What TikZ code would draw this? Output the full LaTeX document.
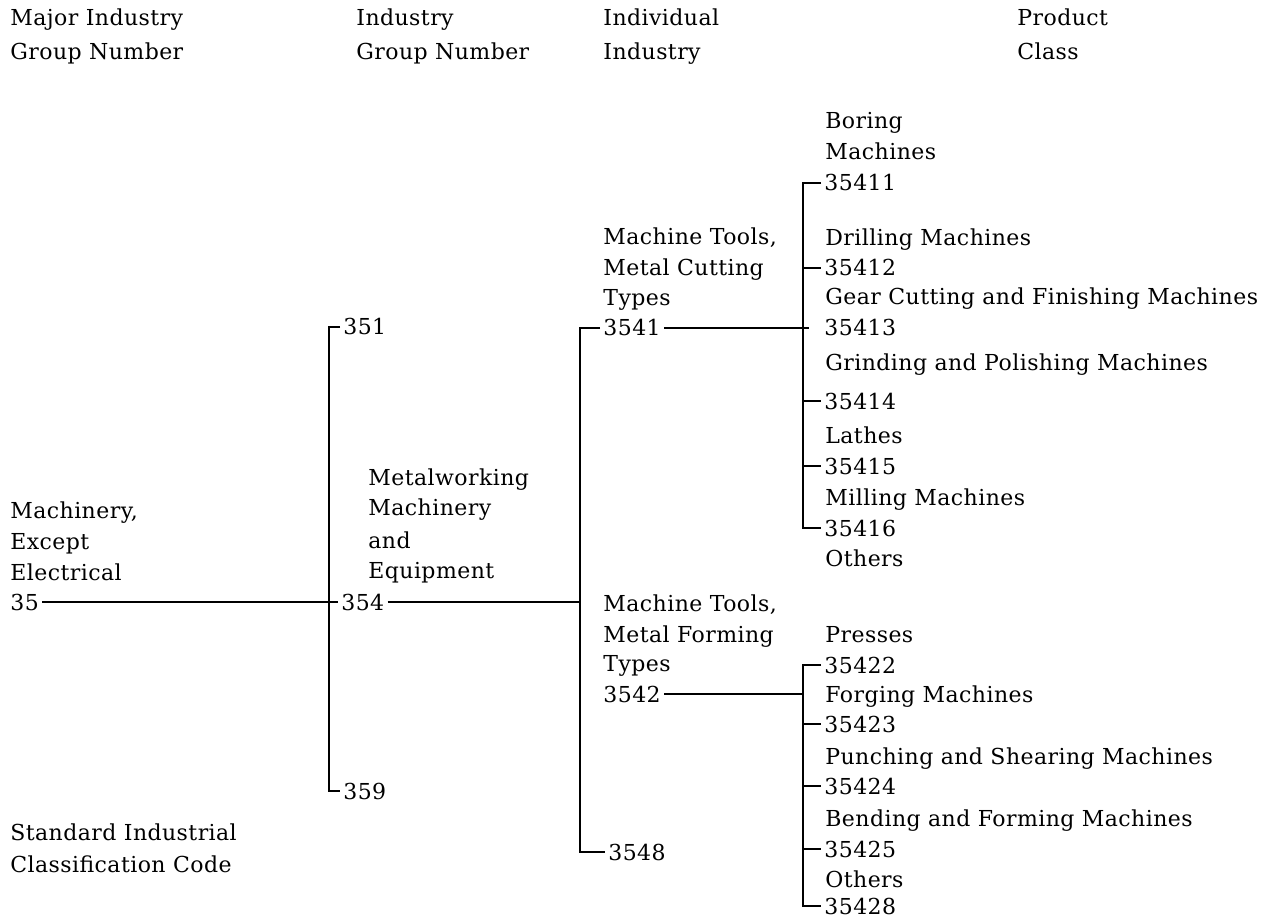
\documentclass[tikz,border=0pt]{standalone}
\usepackage{fontspec}
\setmainfont{DejaVu Serif}[LetterSpace=2]
\usetikzlibrary{positioning}
\tikzset{
  sictext/.style={anchor=base west, inner sep=0pt, font=\fontsize{11}{15}\selectfont},
  siccode/.style={sictext, inner sep=1.5pt},
  sicline/.style={line width=1.1pt, black}
}
\begin{document}
\begin{tikzpicture}[x=0.5pt, y=-0.5pt]
  \useasboundingbox (0,0) rectangle (1274,919);
  % column headings
  \foreach \x/\ta/\tb [count=\i] in {10/Major Industry/Group Number,
      356/Industry/Group Number, 603/Individual/Industry, 1017/Product/Class}{
    \node[sictext] (head\i a) at (\x,26) {\ta};
    \node[sictext] (head\i b) at (\x,60) {\tb};
  }
  % descriptions
  \foreach \x/\y/\t [count=\i] in {
      10/518/{Machinery,}, 10/549/Except, 10/580/Electrical,
      368/486/Metalworking, 368/516/Machinery, 368/548/and, 368/578/Equipment,
      603/245/{Machine Tools,}, 603/276/Metal Cutting, 603/306/Types,
      603/611/{Machine Tools,}, 603/642/Metal Forming, 603/671/Types,
      825/129/Boring, 825/160/Machines, 825/246/Drilling Machines,
      825/305/Gear Cutting and Finishing Machines,
      825/371/Grinding and Polishing Machines, 825/444/Lathes,
      825/505/Milling Machines, 825/566/Others,
      825/642/Presses, 825/702/Forging Machines,
      825/764/Punching and Shearing Machines,
      825/826/Bending and Forming Machines, 825/887/Others,
      10/840/Standard Industrial, 10/872/Classification Code}{
    \node[sictext] (desc\i) at (\x,\y) {\t};
  }
  % codes
  \node[siccode] (c35) at (7,610) {35};
  \node[siccode] (c351) at (340,335) {351};
  \node[siccode] (c354) at (338,610) {354};
  \node[siccode] (c359) at (340,799) {359};
  \node[siccode] (c3541) at (600,336) {3541};
  \node[siccode] (c3542) at (600,702) {3542};
  \node[siccode] (c3548) at (605,860) {3548};
  \foreach \c/\y in {35411/191, 35412/276, 35413/336, 35414/409, 35415/474,
      35416/536, 35422/673, 35423/732, 35424/794, 35425/857, 35428/914}{
    \node[siccode] (c\c) at (821,\y) {\c};
  }
  \coordinate (bar1) at (329,0);
  \coordinate (bar2) at (580,0);
  \coordinate (bar3) at (803,0);
  \coordinate (bar4) at (803,0);
  % tree
  \draw[sicline] (c35.east) -- (c354.west);
  \draw[sicline] (c351.west) -- (c351.west -| bar1) -- (c359.west -| bar1) -- (c359.west);
  \draw[sicline] (c354.east) -- (c354.east -| bar2);
  \draw[sicline] (c3541.west) -- (c3541.west -| bar2) -- (c3548.west -| bar2) -- (c3548.west);
  \draw[sicline, shorten >=6pt] (c3541.east) -- (c35413.west);
  \draw[sicline] (c35411.west) -- (c35411.west -| bar3) -- (c35416.west -| bar3) -- (c35416.west);
  \foreach \c in {35412, 35414, 35415}
    \draw[sicline] (c\c.west -| bar3) -- (c\c.west);
  \draw[sicline] (c3542.east) -- (c3542.east -| bar4);
  \draw[sicline] (c35422.west) -- (c35422.west -| bar4) -- (c35428.west -| bar4) -- (c35428.west);
  \foreach \c in {35423, 35424, 35425}
    \draw[sicline] (c\c.west -| bar4) -- (c\c.west);
\end{tikzpicture}
\end{document}
